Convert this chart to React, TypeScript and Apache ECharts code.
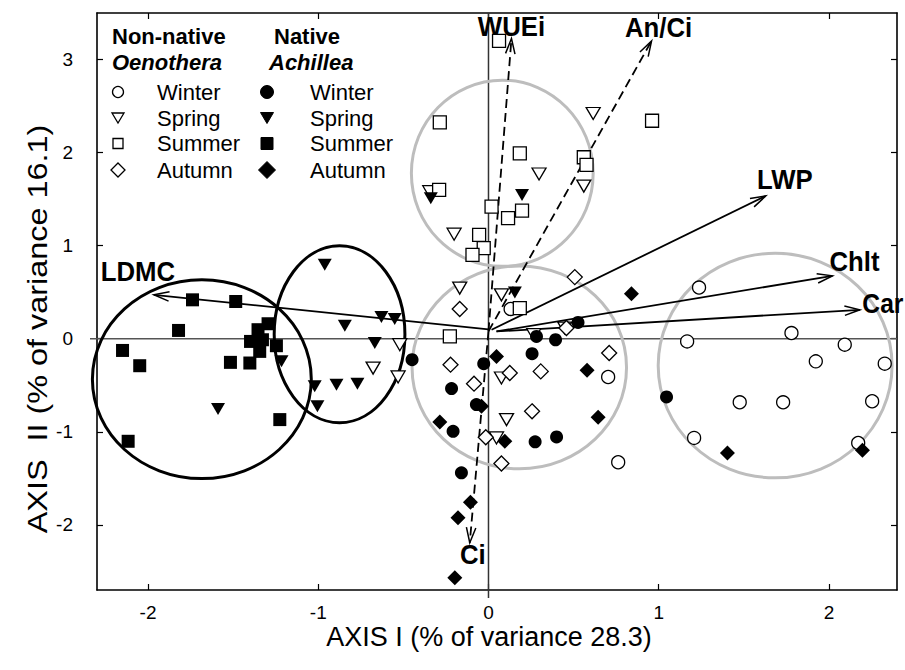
import React, { useEffect, useRef } from "react";
import * as echarts from "echarts";

// ---- axes ----
const X_MIN = -2.3;
const X_MAX = 2.4;
const Y_MIN = -2.7;
const Y_MAX = 3.5;
const xTickValues = [-2, -1, 0, 1, 2];
const yTickValues = [-2, -1, 0, 1, 2, 3];
const xAxisTitle = "AXIS I (% of variance 28.3)";
const yAxisTitle = "AXIS  II (% of variance 16.1)";

// ---- PCA scores [AXIS I, AXIS II] ----
// Non-native Oenothera
const oenWinter = [
  [1.237, 0.55], [1.167, -0.029], [1.78, 0.061], [2.093, -0.064], [1.923, -0.243],
  [2.328, -0.268], [1.476, -0.683], [1.731, -0.683], [2.254, -0.672], [1.208, -1.066],
  [2.172, -1.12], [0.703, -0.411], [0.762, -1.327], [0.13, 0.32],
];
const oenSpring = [
  [0.615, 2.42], [0.297, 1.77], [0.56, 1.64], [-0.345, 1.58], [-0.202, 1.123],
  [-0.169, 0.544], [0.076, 0.472], [0.266, 0.043], [0.448, 0.115], [0.076, -0.422],
  [0.106, -0.869], [0.047, -1.066], [-0.521, -0.064], [-0.678, -0.315], [-0.531, -0.411],
];
const oenSummer = [
  [0.062, 3.2], [-0.286, 2.325], [0.961, 2.342], [0.184, 1.992], [0.56, 1.95],
  [0.576, 1.867], [-0.29, 1.599], [0.018, 1.42], [0.197, 1.377], [0.115, 1.295],
  [-0.055, 1.116], [-0.028, 0.973], [-0.094, 0.901], [0.184, 0.329], [-0.227, 0.025],
];
const oenAutumn = [
  [0.507, 0.662], [-0.169, 0.319], [-0.223, -0.279], [0.125, -0.368], [0.307, -0.351],
  [0.709, -0.153], [-0.085, -0.483], [0.256, -0.78], [-0.016, -1.059], [0.076, -1.341],
  [0.458, 0.115],
];
// Native Achillea
const achWinter = [
  [0.526, 0.175], [0.394, -0.011], [0.282, 0.025], [0.256, -0.161], [-0.028, -0.268],
  [-0.449, -0.225], [-0.217, -0.536], [-0.071, -0.708], [-0.208, -0.995], [0.274, -1.108],
  [0.4, -1.055], [-0.159, -1.441], [1.046, -0.626],
];
const achSpring = [
  [-0.339, 1.51], [0.197, 1.545], [0.155, 0.497], [-0.962, 0.794], [-0.629, 0.233],
  [-0.551, 0.211], [-0.844, 0.139], [-0.668, -0.046], [-1.216, -0.243], [-1.021, -0.512],
  [-0.893, -0.494], [-0.77, -0.483], [-1.005, -0.726], [-1.589, -0.754],
];
const achSummer = [
  [-1.739, 0.418], [-1.485, 0.4], [-1.821, 0.089], [-1.295, 0.161], [-1.354, 0.097],
  [-1.398, -0.029], [-1.328, -0.011], [-1.246, -0.075], [-1.344, -0.136], [-2.15, -0.126],
  [-2.049, -0.29], [-1.516, -0.254], [-1.402, -0.261], [-1.226, -0.869], [-2.117, -1.102],
];
const achAutumn = [
  [0.84, 0.483], [0.047, -0.19], [0.579, -0.34], [-0.041, -0.726], [-0.286, -0.894],
  [0.644, -0.844], [0.096, -1.102], [-0.106, -1.756], [-0.179, -1.924], [-0.198, -2.568],
  [1.404, -1.227], [2.197, -1.198],
];

// ---- trait vectors ----
const vectorNames = ["LDMC", "WUEi", "An/Ci", "LWP", "Chlt", "Car", "Ci"];
const vectorStart = [
  [0, 0.1], [0, 0.08], [0, 0.08], [0.018, 0.097], [0.047, 0.078], [0.047, 0.078], [0, 0.08],
];
const vectorEnd = [
  [-1.966, 0.472], [0.135, 3.226], [0.958, 3.2], [1.629, 1.534], [2.021, 0.676], [2.182, 0.311], [-0.11, -2.192],
];
const dashedVectors = ["WUEi", "An/Ci", "Ci"];

// ---- group ellipses [cx, cy, rx, ry] ----
const blackEllipses = [
  [-1.684, -0.435, 0.643, 1.068],
  [-0.875, 0.048, 0.384, 0.95],
];
const grayEllipses = [
  [0.081, 1.778, 0.534, 1.0],
  [0.181, -0.308, 0.63, 1.09],
  [1.684, -0.288, 0.687, 1.207],
];

// label placement around each arrow tip, pixels
const labelOffsets: Record<string, number[]> = {
  LDMC: [-16, -23],
  WUEi: [0, -12],
  "An/Ci": [7, -13],
  LWP: [19, -16],
  Chlt: [22, -14],
  Car: [23, -6],
  Ci: [3, 12],
};

const SANS = "Liberation Sans, Arial, Helvetica, sans-serif";

const DOWN_TRIANGLE = "path://M0,0 L14,0 L7,12 Z";

function vectorSeries(dashed: boolean) {
  const idx = vectorNames
    .map((n, i) => i)
    .filter((i) => dashedVectors.includes(vectorNames[i]) === dashed);
  return {
    type: "custom",
    name: dashed ? "vectors-dashed" : "vectors",
    silent: true,
    z: 2,
    data: idx.map((i) => ({
      name: vectorNames[i],
      value: [vectorStart[i][0], vectorStart[i][1], vectorEnd[i][0], vectorEnd[i][1]],
    })),
    renderItem: (params: any, api: any) => {
      const name = vectorNames[idx[params.dataIndex]];
      const p0 = api.coord([api.value(0), api.value(1)]);
      const p1 = api.coord([api.value(2), api.value(3)]);
      const ang = Math.atan2(p1[1] - p0[1], p1[0] - p0[0]);
      const L = 16;
      const a = 0.3;
      const b1 = [p1[0] - L * Math.cos(ang - a), p1[1] - L * Math.sin(ang - a)];
      const b2 = [p1[0] - L * Math.cos(ang + a), p1[1] - L * Math.sin(ang + a)];
      const off = labelOffsets[name];
      return {
        type: "group",
        children: [
          {
            type: "line",
            shape: { x1: p0[0], y1: p0[1], x2: p1[0], y2: p1[1] },
            style: { stroke: "#000", lineWidth: 1.8, lineDash: dashed ? [9, 5] : null, fill: null },
          },
          {
            type: "polyline",
            shape: { points: [b1, p1, b2] },
            style: { stroke: "#000", lineWidth: 1.5, fill: null },
          },
          {
            type: "text",
            x: p1[0] + off[0],
            y: p1[1] + off[1],
            scaleX: name === "Car" ? 0.88 : 0.92,
            style: {
              text: name,
              x: 0,
              y: 0,
              align: "center",
              verticalAlign: "middle",
              fill: "#000",
              fontSize: 28,
              fontWeight: "bold",
              fontFamily: SANS,
            },
          },
        ],
      };
    },
  };
}

function ellipseSeries(name: string, data: number[][], color: string) {
  return {
    type: "custom",
    name,
    silent: true,
    z: 1,
    data,
    renderItem: (params: any, api: any) => {
      const c = api.coord([api.value(0), api.value(1)]);
      const s = api.size([api.value(2), api.value(3)]);
      return {
        type: "ellipse",
        shape: { cx: c[0], cy: c[1], rx: s[0], ry: s[1] },
        style: { fill: null, stroke: color, lineWidth: 3 },
      };
    },
  };
}

function scatter(name: string, data: number[][], symbol: string, size: any, filled: boolean) {
  return {
    type: "scatter",
    name,
    data,
    symbol,
    symbolSize: size,
    silent: true,
    z: filled ? 4 : 3,
    itemStyle: filled
      ? { color: "#000", opacity: 1 }
      : { color: "#fff", borderColor: "#000", borderWidth: 1.3, opacity: 1 },
  };
}

// legend drawn as a two-column key with headers
function legendGraphics() {
  const rowsY = [92, 118, 143.5, 170];
  const els: any[] = [];
  const txt = (text: string, x: number, y: number, extra: any = {}) => ({
    type: "text",
    x,
    y,
    style: {
      text,
      fill: "#000",
      fontSize: 22,
      fontFamily: SANS,
      verticalAlign: "middle",
      align: "left",
      ...extra,
    },
  });
  els.push(txt("Non-native", 112, 36, { fontWeight: "bold" }));
  els.push(txt("Oenothera", 112, 62, { fontWeight: "bold", fontStyle: "italic" }));
  els.push(txt("Native", 274, 36, { fontWeight: "bold" }));
  els.push(txt("Achillea", 269, 62, { fontWeight: "bold", fontStyle: "italic" }));
  const cols = [
    { cx: 118, tx: 157, filled: false },
    { cx: 267, tx: 310, filled: true },
  ];
  cols.forEach((c) => {
    const style = c.filled
      ? { fill: "#000", stroke: "#000", lineWidth: 1 }
      : { fill: "#fff", stroke: "#000", lineWidth: 1.3 };
    const r = c.filled ? 6.5 : 5.5;
    const [yW, yS, yU, yA] = rowsY;
    els.push({ type: "circle", shape: { cx: c.cx, cy: yW, r }, style });
    const tw = c.filled ? 6.5 : 6;
    const th = c.filled ? 11 : 10;
    els.push({
      type: "polygon",
      shape: { points: [[c.cx - tw, yS - th / 2], [c.cx + tw, yS - th / 2], [c.cx, yS + th / 2]] },
      style,
    });
    const sq = c.filled ? 12 : 10;
    els.push({ type: "rect", shape: { x: c.cx - sq / 2, y: yU - sq / 2, width: sq, height: sq }, style });
    const d = c.filled ? 8.5 : 7;
    els.push({
      type: "polygon",
      shape: { points: [[c.cx, yA - d], [c.cx + d, yA], [c.cx, yA + d], [c.cx - d, yA]] },
      style,
    });
    ["Winter", "Spring", "Summer", "Autumn"].forEach((s, i) => {
      els.push(txt(s, c.tx, rowsY[i]));
    });
  });
  return els;
}

export default function App() {
  const ref = useRef<HTMLDivElement>(null);

  useEffect(() => {
    if (!ref.current) return;
    const chart = echarts.init(ref.current, null, { renderer: "svg" });

    const baseX = {
      type: "value",
      min: X_MIN,
      max: X_MAX,
      splitLine: { show: false },
      axisLine: { onZero: false, lineStyle: { color: "#000", width: 1.6 } },
      axisTick: { inside: true, length: 6, customValues: xTickValues, lineStyle: { color: "#000", width: 1.2 } },
    };
    const baseY = {
      type: "value",
      min: Y_MIN,
      max: Y_MAX,
      splitLine: { show: false },
      axisLine: { onZero: false, lineStyle: { color: "#000", width: 1.6 } },
      axisTick: { inside: true, length: 6, customValues: yTickValues, lineStyle: { color: "#000", width: 1.2 } },
    };

    chart.setOption({
      animation: false,
      backgroundColor: "#fff",
      grid: { left: 97, top: 13, width: 800, height: 577, containLabel: false },
      xAxis: [
        {
          ...baseX,
          position: "bottom",
          axisLabel: {
            customValues: xTickValues,
            margin: 13,
            fontSize: 19,
            color: "#000",
            fontFamily: SANS,
          },
        },
        { ...baseX, position: "top", axisLabel: { show: false } },
      ],
      yAxis: [
        {
          ...baseY,
          position: "left",
          axisLabel: {
            customValues: yTickValues,
            margin: 24,
            fontSize: 19,
            color: "#000",
            fontFamily: SANS,
          },
        },
        { ...baseY, position: "right", axisLabel: { show: false } },
      ],
      graphic: [
        {
          type: "text",
          x: 489,
          y: 637,
          style: {
            text: xAxisTitle,
            fill: "#000",
            fontSize: 27,
            fontFamily: SANS,
            align: "center",
            verticalAlign: "middle",
          },
        },
        {
          type: "text",
          x: 37,
          y: 329,
          rotation: Math.PI / 2,
          scaleX: 1.2,
          style: {
            text: yAxisTitle,
            fill: "#000",
            fontSize: 27,
            fontFamily: SANS,
            align: "center",
            verticalAlign: "middle",
          },
        },
        ...legendGraphics(),
      ],
      series: [
        {
          type: "custom",
          name: "zero-lines",
          silent: true,
          z: 1,
          data: [[0, 0]],
          renderItem: (params: any, api: any) => {
            const l = api.coord([X_MIN, 0]);
            const r = api.coord([X_MAX, 0]);
            const t = api.coord([0, Y_MAX]);
            const b = api.coord([0, Y_MIN]);
            return {
              type: "group",
              children: [
                { type: "line", shape: { x1: l[0] - 7, y1: l[1], x2: r[0], y2: r[1] }, style: { stroke: "#555", lineWidth: 1.5 } },
                { type: "line", shape: { x1: t[0], y1: t[1], x2: b[0], y2: b[1] + 8 }, style: { stroke: "#333", lineWidth: 1.5 } },
              ],
            };
          },
        },
        ellipseSeries("native-groups", blackEllipses, "#000"),
        ellipseSeries("groups", grayEllipses, "#bdbdbd"),
        vectorSeries(false),
        vectorSeries(true),
        scatter("Oenothera Winter", oenWinter, "circle", 13, false),
        scatter("Oenothera Spring", oenSpring, DOWN_TRIANGLE, [14, 12], false),
        scatter("Oenothera Summer", oenSummer, "rect", 13, false),
        scatter("Oenothera Autumn", oenAutumn, "diamond", 15, false),
        scatter("Achillea Winter", achWinter, "circle", 13, true),
        scatter("Achillea Spring", achSpring, DOWN_TRIANGLE, [14, 12], true),
        scatter("Achillea Summer", achSummer, "rect", 13, true),
        scatter("Achillea Autumn", achAutumn, "diamond", 15, true),
      ],
    });

    return () => chart.dispose();
  }, []);

  return (
    <div
      ref={ref}
      style={{ position: "fixed", left: 0, top: 0, width: 905, height: 670, background: "#fff" }}
    />
  );
}
